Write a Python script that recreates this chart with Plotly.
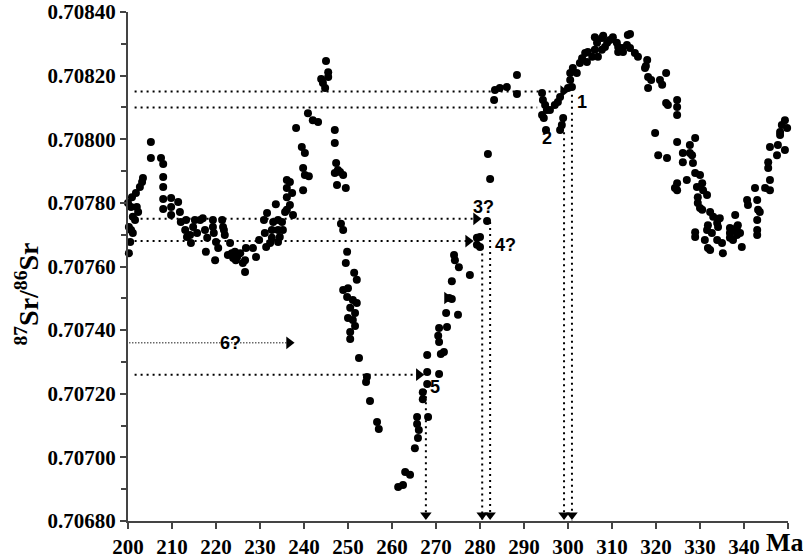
import plotly.graph_objects as go

# ---- data: age (Ma) and 87Sr/86Sr ratio of each sample ----
age_ma = [
    200.0, 200.2, 200.5, 200.2, 200.7, 201.1, 200.7, 200.9, 201.6, 201.1, 202.0, 201.8,
    202.7, 203.2, 203.4, 202.3, 205.2, 205.2, 207.5, 208.0, 208.0, 208.0, 208.0, 208.0,
    209.8, 209.8, 209.8, 211.4, 211.8, 212.0, 213.0, 213.4, 214.3, 213.2, 214.8, 214.1,
    215.2, 215.7, 216.4, 217.0, 217.5, 218.0, 217.7, 219.3, 219.3, 219.8, 219.5, 220.0,
    220.5, 221.4, 221.6, 221.8, 222.0, 223.2, 222.7, 223.6, 223.9, 224.3, 224.8, 224.5,
    225.5, 226.1, 226.6, 226.6, 226.8, 228.4, 229.1, 229.8, 230.9, 231.1, 231.6, 231.4,
    232.7, 232.7, 233.0, 232.3, 233.6, 234.1, 234.1, 234.5, 235.0, 235.2, 234.1, 235.7,
    236.1, 236.1, 236.1, 236.8, 237.3, 236.8, 237.5, 236.1, 238.2, 239.5, 240.2, 239.8,
    240.2, 239.8, 241.1,
    240.9, 242.0, 243.2, 243.9, 244.3, 244.8, 245.0, 245.5, 245.5, 247.0, 247.0, 247.3,
    247.0, 247.5, 247.7, 248.2, 248.9, 249.5, 248.4, 248.9, 249.8, 249.5, 251.4, 252.0,
    248.9, 250.0, 249.8, 251.1, 252.0, 250.5, 251.6, 250.0, 251.1, 251.6, 250.5, 250.5,
    252.5, 254.3, 254.1, 255.0, 256.6, 257.0,
    261.4, 262.5, 263.0, 264.1, 265.2, 265.9, 266.1, 265.7, 265.7, 268.2, 267.0, 267.0,
    268.0, 268.0, 270.7, 268.0, 271.1, 271.8, 270.5, 270.7, 270.7, 272.5, 272.3, 275.0,
    273.0, 273.6, 273.6, 277.7, 275.2, 274.3, 274.1, 279.3, 279.3, 280.0, 280.0, 281.6,
    281.8, 282.3,
    283.4, 284.5, 286.1, 288.4, 283.2, 288.4, 294.1, 294.3, 294.8, 295.2, 294.1, 294.5,
    295.9, 297.0, 297.7, 298.2, 295.0, 298.2, 298.9, 298.6, 300.0,
    300.9, 300.5, 300.5, 301.1, 302.0, 302.7, 303.2, 303.9, 304.5, 304.3, 305.5, 306.1,
    306.8, 307.7, 306.6, 306.1, 307.7, 308.4, 309.5, 310.2, 311.1, 311.4, 312.3, 313.4,
    313.6, 308.0, 314.1, 308.9, 311.4, 312.5, 314.1, 315.2, 315.9, 318.0, 317.7, 317.5,
    318.2, 318.9, 318.2, 319.8,
    320.9, 322.3, 321.4, 322.3, 322.7, 324.8, 324.8, 324.8, 320.5, 322.5, 324.8, 328.9,
    327.7, 326.1, 327.7, 328.2, 326.1, 328.4, 328.9, 327.0, 324.8, 324.3, 324.8, 330.0,
    330.5, 329.3, 330.7, 331.6, 329.5, 329.5, 330.0, 330.5, 332.3, 333.0, 334.5, 333.9,
    338.0, 331.8, 334.1, 336.8, 338.6, 328.9, 328.9, 331.6, 332.7, 331.1, 331.8, 332.3,
    333.9, 335.0, 335.2, 336.8, 336.8, 337.5, 337.5, 338.4, 338.4, 339.1, 339.5, 340.7,
    340.9, 342.5, 343.0, 343.2, 343.6, 343.0, 343.0, 343.0, 344.8, 345.5, 345.5, 345.9,
    345.9, 345.9, 347.7, 347.5, 349.3, 348.2, 348.6, 349.3, 349.8, 348.2,
]

sr_ratio = [
    0.707800, 0.707724, 0.707677, 0.707642, 0.707787, 0.707756, 0.707715, 0.707818, 0.707746, 0.707705, 0.707787, 0.707831,
    0.707850, 0.707866, 0.707878, 0.707771, 0.707991, 0.707941, 0.707941, 0.707922, 0.707881, 0.707850, 0.707812, 0.707781,
    0.707815, 0.707787, 0.707762, 0.707803, 0.707771, 0.707740, 0.707715, 0.707693, 0.707674, 0.707746, 0.707724, 0.707699,
    0.707746, 0.707705, 0.707746, 0.707752, 0.707715, 0.707690, 0.707646, 0.707746, 0.707724, 0.707620, 0.707705, 0.707677,
    0.707658, 0.707746, 0.707724, 0.707715, 0.707699, 0.707674, 0.707636, 0.707642, 0.707627, 0.707646, 0.707630, 0.707620,
    0.707642, 0.707611, 0.707583, 0.707620, 0.707658, 0.707658, 0.707630, 0.707683, 0.707746, 0.707705, 0.707768, 0.707661,
    0.707715, 0.707690, 0.707740, 0.707674, 0.707796, 0.707715, 0.707746, 0.707693, 0.707740, 0.707715, 0.707677, 0.707771,
    0.707818, 0.707847, 0.707872, 0.707866, 0.707831, 0.707793, 0.707762, 0.707778, 0.708035, 0.707976, 0.707957, 0.707910,
    0.707888, 0.707840, 0.707884,
    0.708082, 0.708060, 0.708054, 0.708189, 0.708177, 0.708161, 0.708246, 0.708211, 0.708196, 0.708029, 0.707988, 0.707925,
    0.707894, 0.707856, 0.707903, 0.707897, 0.707888, 0.707847, 0.707734, 0.707715, 0.707646, 0.707611, 0.707580, 0.707558,
    0.707526, 0.707532, 0.707504, 0.707495, 0.707485, 0.707470, 0.707454, 0.707438, 0.707432, 0.707413, 0.707394, 0.707372,
    0.707312, 0.707253, 0.707237, 0.707177, 0.707111, 0.707089,
    0.706907, 0.706913, 0.706954, 0.706945, 0.707029, 0.707061, 0.707086, 0.707105, 0.707127, 0.707127, 0.707183, 0.707205,
    0.707231, 0.707268, 0.707262, 0.707322, 0.707325, 0.707331, 0.707382, 0.707363, 0.707407, 0.707410, 0.707454, 0.707448,
    0.707501, 0.707498, 0.707554, 0.707573, 0.707598, 0.707620, 0.707636, 0.707690, 0.707668, 0.707693, 0.707661, 0.707743,
    0.707954, 0.707875,
    0.708155, 0.708161, 0.708164, 0.708202, 0.708123, 0.708142, 0.708145, 0.708123, 0.708108, 0.708092, 0.708076, 0.708067,
    0.708092, 0.708108, 0.708117, 0.708133, 0.708029, 0.708029, 0.708067, 0.708045, 0.708161,
    0.708164, 0.708186, 0.708208, 0.708224, 0.708208, 0.708240, 0.708255, 0.708271, 0.708274, 0.708243, 0.708259, 0.708281,
    0.708259, 0.708281, 0.708303, 0.708321, 0.708318, 0.708290, 0.708312, 0.708321, 0.708303, 0.708274, 0.708287, 0.708296,
    0.708328, 0.708325, 0.708331, 0.708303, 0.708290, 0.708274, 0.708287, 0.708271, 0.708259, 0.708249, 0.708230, 0.708224,
    0.708196, 0.708186, 0.708161, 0.708020,
    0.708186, 0.708208, 0.708171, 0.708114, 0.708108, 0.708123, 0.708101, 0.708076, 0.707950, 0.707941, 0.707991, 0.708004,
    0.707982, 0.707957, 0.707957, 0.707950, 0.707928, 0.707925, 0.707894, 0.707872, 0.707862, 0.707847, 0.707840, 0.707888,
    0.707862, 0.707850, 0.707840, 0.707825, 0.707818, 0.707800, 0.707784, 0.707778, 0.707771, 0.707756, 0.707752, 0.707737,
    0.707762, 0.707730, 0.707724, 0.707721, 0.707730, 0.707708, 0.707693, 0.707715, 0.707705, 0.707683, 0.707658, 0.707652,
    0.707683, 0.707674, 0.707642, 0.707705, 0.707690, 0.707715, 0.707683, 0.707724, 0.707699, 0.707705, 0.707661, 0.707809,
    0.707793, 0.707847, 0.707809, 0.707778, 0.707771, 0.707746, 0.707715, 0.707699, 0.707847, 0.707928, 0.707910, 0.707872,
    0.707840, 0.707976, 0.707982, 0.707950, 0.707966, 0.708023, 0.708045, 0.708060, 0.708035, 0.708013,
]

# ---- reference (tie) lines ----
h_levels = [0.70815, 0.70810, 0.70775, 0.70768, 0.70726]   # horizontal dotted lines
h_starts = [201.5, 201.5, 201.5, 201.5, 201.5]
h_ends = [298.9, 293.0, 279.1, 277.3, 266.1]
six_level = 0.70736          # finer dotted line "6?"
six_start, six_end = 200.3, 236.6

v_ages = [300.9, 299.1, 282.3, 280.5, 267.7]                 # vertical dotted lines
v_tops = [0.70814, 0.70806, 0.70774, 0.70766, 0.70723]

arrow_r_x = [298.9, 279.1, 277.3, 266.1, 236.6, 272.5]       # right-pointing heads
arrow_r_y = [0.70815, 0.70775, 0.70768, 0.70726, 0.70736, 0.707501]
arrow_d_x = [300.9, 299.1, 282.3, 280.5, 267.7]              # down-pointing heads at axis

label_text = ["1", "2", "3?", "4?", "5", "6?"]
label_x = [303.2, 295.2, 280.7, 285.9, 269.8, 223.4]
label_y = [0.708117, 0.708004, 0.707787, 0.707668, 0.707221, 0.707360]

x_ticks = list(range(200, 351, 10))
x_ticktext = [str(v) for v in range(200, 341, 10)] + [" "]

Y_MIN, Y_MAX = 0.70680, 0.70840

fig = go.Figure()

shapes = []
for y, x0, x1 in zip(h_levels, h_starts, h_ends):
    shapes.append(dict(type="line", xref="x", yref="y", x0=x0, x1=x1, y0=y, y1=y,
                       line=dict(color="black", width=2, dash="2px,4px"), layer="below"))
shapes.append(dict(type="line", xref="x", yref="y", x0=six_start, x1=six_end, y0=six_level, y1=six_level,
                   line=dict(color="#222", width=1.5, dash="1px,2px"), layer="below"))
for x, top in zip(v_ages, v_tops):
    shapes.append(dict(type="line", xref="x", yref="y", x0=x, x1=x, y0=top, y1=Y_MIN,
                       line=dict(color="black", width=2, dash="2px,4px"), layer="below"))

fig.add_trace(go.Scatter(
    x=age_ma, y=sr_ratio, mode="markers",
    marker=dict(color="black", size=8, line=dict(width=0)),
    cliponaxis=False, showlegend=False, hoverinfo="x+y"))

fig.add_trace(go.Scatter(
    x=arrow_r_x, y=arrow_r_y, mode="markers",
    marker=dict(symbol="triangle-right", color="black", size=11, line=dict(width=0)),
    cliponaxis=False, showlegend=False, hoverinfo="skip"))

fig.add_trace(go.Scatter(
    x=arrow_d_x, y=[Y_MIN + 0.0000190] * len(arrow_d_x), mode="markers",
    marker=dict(symbol="triangle-down", color="black", size=10, line=dict(width=0)),
    cliponaxis=False, showlegend=False, hoverinfo="skip"))

annotations = []
for t, x, y in zip(label_text, label_x, label_y):
    annotations.append(dict(x=x, y=y, xref="x", yref="y", text="<b>%s</b>" % t, showarrow=False,
                            font=dict(family="Liberation Sans", size=18, color="black")))
annotations.append(dict(x=350, y=0, xref="x", yref="paper", text="<b>Ma</b>", showarrow=False,
                        xanchor="center", yanchor="top", yshift=-5, xshift=-3,
                        font=dict(family="Liberation Serif", size=26, color="black")))
annotations.append(dict(x=-0.153, y=0.445, xref="paper", yref="paper",
                        text="<b><sup>87</sup>Sr/<sup>86</sup>Sr</b>", showarrow=False,
                        textangle=-90, xanchor="center", yanchor="middle",
                        font=dict(family="Liberation Serif", size=28, color="black")))

tickfont = dict(family="Liberation Serif", size=21, color="black", weight="bold")

fig.update_layout(
    width=803, height=558,
    margin=dict(l=128, r=15, t=12, b=37, autoexpand=False),
    paper_bgcolor="white", plot_bgcolor="white",
    shapes=shapes, annotations=annotations,
    showlegend=False,
)
fig.update_xaxes(
    range=[200, 350], tickvals=x_ticks, ticktext=x_ticktext,
    ticks="outside", ticklen=6, tickwidth=2, tickcolor="#444",
    showline=True, linecolor="#444", linewidth=2,
    showgrid=False, zeroline=False, tickfont=tickfont,
)
fig.update_yaxes(
    range=[Y_MIN, Y_MAX], tick0=Y_MIN, dtick=0.0002, tickformat=".5f",
    ticks="outside", ticklen=6, tickwidth=2, tickcolor="#444",
    minor=dict(dtick=0.0001, ticks="outside", ticklen=5, tickwidth=1.5, tickcolor="#444"),
    showline=True, linecolor="#444", linewidth=2,
    showgrid=False, zeroline=False, tickfont=tickfont,
)

fig.write_html("out.html", config={"displayModeBar": False},
               post_script="document.body.style.margin='0px';document.body.style.padding='0px';")
